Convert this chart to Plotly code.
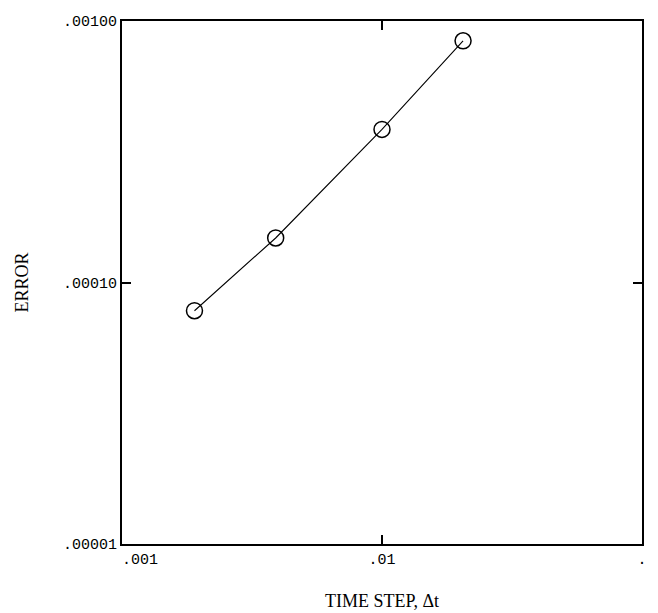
import plotly.graph_objects as go

time_step = [0.0019, 0.0039, 0.01, 0.0205]
error = [7.8e-5, 1.48e-4, 3.85e-4, 8.4e-4]

x_tickvals = [0.001, 0.01, 0.1]
x_ticktext = ["\u00a0\u00a0\u00a0\u00a0.001", ".01", "."]
y_tickvals = [1e-5, 1e-4, 1e-3]
y_ticktext = [".00001", ".00010", ".00100"]

fig = go.Figure()
fig.add_trace(go.Scatter(
    x=time_step, y=error, mode="lines+markers",
    line=dict(color="black", width=1.1),
    marker=dict(symbol="circle-open", size=16, color="black", line=dict(width=1.5)),
    showlegend=False,
))

tickfont = dict(family="Liberation Mono", size=15, color="black")
titlefont = dict(family="Liberation Serif", size=18, color="black")
fig.update_xaxes(
    type="log", range=[-3, -1],
    tickvals=x_tickvals, ticktext=x_ticktext, tickfont=tickfont,
    ticks="inside", ticklen=9, tickwidth=1.5, tickcolor="black",
    showline=True, linecolor="black", linewidth=2, mirror="ticks",
    showgrid=False, zeroline=False,
    title=dict(text="TIME STEP, \u0394t", font=titlefont, standoff=26),
)
fig.update_yaxes(
    type="log", range=[-5, -3],
    tickvals=y_tickvals, ticktext=y_ticktext, tickfont=tickfont,
    ticks="inside", ticklen=9, tickwidth=1.5, tickcolor="black",
    showline=True, linecolor="black", linewidth=2, mirror="ticks",
    showgrid=False, zeroline=False,
    title=dict(text="ERROR", font=titlefont, standoff=30),
)
fig.update_layout(
    width=658, height=613,
    margin=dict(l=114, r=24, t=6, b=77),
    plot_bgcolor="white", paper_bgcolor="white",
)
fig.write_html("out.html")
